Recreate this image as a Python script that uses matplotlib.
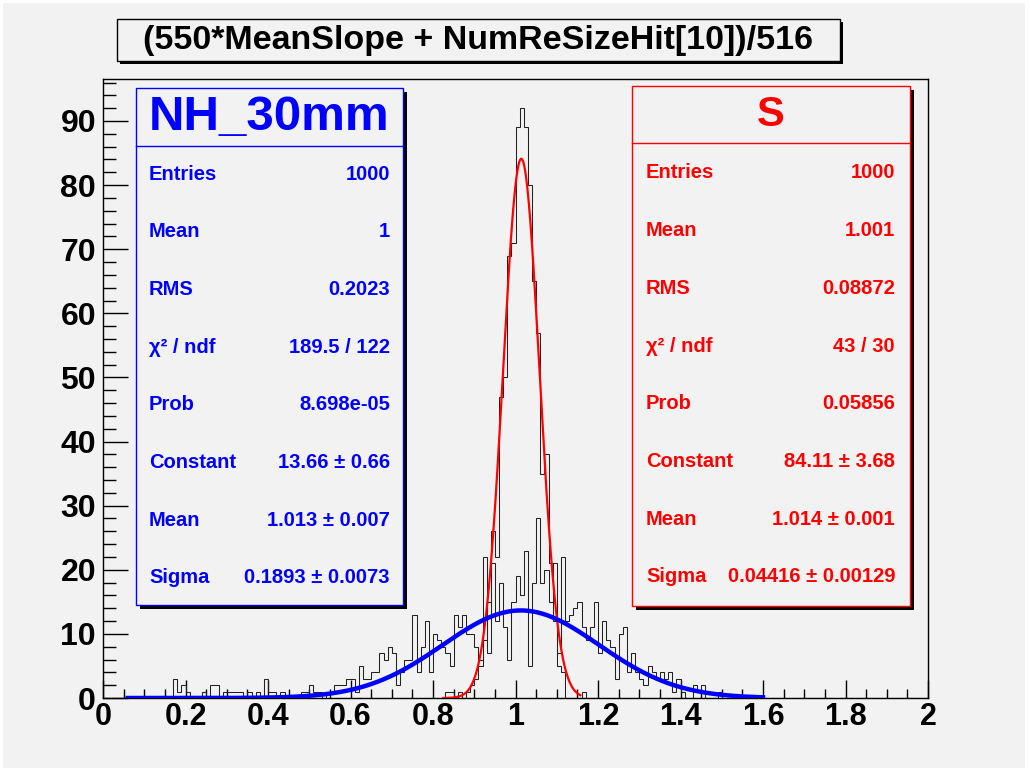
import numpy as np
import matplotlib.pyplot as plt
from matplotlib.patches import Rectangle
from matplotlib.ticker import MultipleLocator

plt.rcParams['font.family'] = ['Liberation Sans', 'DejaVu Sans']
plt.rcParams['font.weight'] = 'bold'

# histogram binning: 200 bins of 0.01 between 0 and 2
bin_lo, bin_hi, n_bins = 0.0, 2.0, 200

# NH_30mm histogram, counts starting at x = 0.17
nh_first = 0.17
nh_counts = [3, 1, 2, 1, 0, 0, 0, 1, 0, 2, 2, 0, 1, 1, 1, 1, 1, 0, 1, 0,
             1, 0, 3, 1, 1, 0, 1, 0, 0, 0, 0, 1, 1, 2, 1, 1, 0, 1, 1, 2,
             2, 2, 3, 3, 1, 5, 3, 3, 4, 4, 7, 6, 8, 7, 2, 4, 6, 6, 13, 4,
             8, 12, 4, 10, 9, 8, 7, 5, 13, 11, 13, 10, 10, 8, 6, 22, 7, 21, 12, 18,
             11, 6, 15, 19, 16, 23, 5, 18, 28, 18, 20, 15, 21, 7, 22, 12, 13, 14, 15, 11,
             9, 11, 15, 7, 12, 9, 8, 3, 10, 11, 4, 7, 4, 3, 2, 5, 4, 3, 4, 3,
             4, 1, 3, 1, 0, 0, 2, 1, 2, 0, 0, 0, 1]

# S histogram, counts starting at x = 0.83
s_first = 0.83
s_counts = [1, 1, 0, 1, 0, 1, 2, 3, 5, 9, 15, 26, 22, 47, 50, 69, 71, 89, 92, 89,
            80, 65, 57, 35, 38, 21, 12, 5, 4, 0, 0, 0, 0, 1]

# gaussian fit results (from the stat boxes)
nh_fit = dict(const=13.66, mean=1.013, sigma=0.1893, lo=0.06, hi=1.6)
s_fit = dict(const=84.11, mean=1.014, sigma=0.04416, lo=0.825, hi=1.157)

nh_stats = [("Entries", "1000"), ("Mean", "1"), ("RMS", "0.2023"),
            ("χ² / ndf", "189.5 / 122"), ("Prob", "8.698e-05"),
            ("Constant", "13.66 ± 0.66"), ("Mean", "1.013 ± 0.007"),
            ("Sigma", "0.1893 ± 0.0073")]
s_stats = [("Entries", "1000"), ("Mean", "1.001"), ("RMS", "0.08872"),
           ("χ² / ndf", "43 / 30"), ("Prob", "0.05856"),
           ("Constant", "84.11 ± 3.68"), ("Mean", "1.014 ± 0.001"),
           ("Sigma", "0.04416 ± 0.00129")]

title = "(550*MeanSlope + NumReSizeHit[10])/516"

W, H = 1030, 771
bg = "#f2f2f2"


def fx(px):
    return px / W


def fy(py):
    return 1 - py / H


edges = np.linspace(bin_lo, bin_hi, n_bins + 1)


def full_hist(first, counts):
    h = np.zeros(n_bins)
    i0 = int(round((first - bin_lo) / 0.01))
    h[i0:i0 + len(counts)] = counts
    return h


h_nh = full_hist(nh_first, nh_counts)
h_s = full_hist(s_first, s_counts)


def gaus(p, n=400):
    x = np.linspace(p["lo"], p["hi"], n)
    return x, p["const"] * np.exp(-0.5 * ((x - p["mean"]) / p["sigma"]) ** 2)


fig = plt.figure(figsize=(W / 100, H / 100), dpi=100, facecolor="white")
fig.patches.append(Rectangle((fx(3), fy(768)), fx(1022), 765 / H,
                             transform=fig.transFigure, facecolor=bg,
                             edgecolor="none", zorder=-5))

ax = fig.add_axes([fx(103), fy(698), fx(928 - 103), (698 - 79) / H])
ax.set_facecolor(bg)
ax.stairs(h_s, edges, color="#222222", lw=0.75, zorder=2)
ax.stairs(h_nh, edges, color="#222222", lw=0.75, zorder=2)
xs, ys = gaus(s_fit)
ax.plot(xs, ys, color="red", lw=1.6, zorder=3)
xn, yn = gaus(nh_fit)
ax.plot(xn, yn, color="blue", lw=3.2, zorder=4)

ax.set_xlim(0, 2)
ax.set_ylim(0, 96.55)
ax.xaxis.set_minor_locator(MultipleLocator(0.05))
ax.yaxis.set_major_locator(MultipleLocator(10))
ax.yaxis.set_minor_locator(MultipleLocator(2))
ax.set_xticks(np.arange(0, 2.01, 0.2))
ax.set_xticklabels(["0", "0.2", "0.4", "0.6", "0.8", "1", "1.2", "1.4",
                    "1.6", "1.8", "2"])
ax.tick_params(axis="x", which="major", direction="in", length=13, width=1,
               labelsize=22, pad=3)
ax.tick_params(axis="x", which="minor", direction="in", length=6.5, width=1)
ax.tick_params(axis="y", which="major", direction="in", length=18, width=1,
               labelsize=23, pad=5)
ax.tick_params(axis="y", which="minor", direction="in", length=9, width=1)
for lab in ax.get_xticklabels() + ax.get_yticklabels():
    lab.set_fontweight("bold")
for s in ax.spines.values():
    s.set_linewidth(1)
    s.set_color("black")


def box(x0, y0, x1, y1, edge, lw=1.0, shadow=4):
    fig.patches.append(Rectangle((fx(x0 + shadow), fy(y1 + shadow)),
                                 fx(x1 - x0), (y1 - y0) / H,
                                 transform=fig.transFigure, facecolor="black",
                                 edgecolor="none", zorder=5))
    fig.patches.append(Rectangle((fx(x0), fy(y1)), fx(x1 - x0), (y1 - y0) / H,
                                 transform=fig.transFigure, facecolor=bg,
                                 edgecolor=edge, lw=lw, zorder=6))


# title box
box(117, 19, 840, 61, "black", lw=1.0, shadow=3)
fig.text(fx(478), fy(41), title, ha="center", va="center", fontsize=24.5,
         fontweight="bold", color="black", zorder=7)


def stat_box(x0, y0, x1, y1, sep, color, header, hsize, rows, lx, rx, ry0):
    box(x0, y0, x1, y1, color, lw=1.0, shadow=4)
    fig.lines.append(plt.Line2D([fx(x0), fx(x1)], [fy(sep), fy(sep)],
                                transform=fig.transFigure, color=color,
                                lw=1.0, zorder=7))
    fig.text(fx((x0 + x1) / 2), fy((y0 + sep) / 2), header, ha="center",
             va="center", fontsize=hsize, fontweight="bold", color=color,
             zorder=7)
    for i, (k, v) in enumerate(rows):
        y = ry0 + i * 57.7
        fig.text(fx(lx), fy(y), k, ha="left", va="center", fontsize=14.5,
                 fontweight="bold", color=color, zorder=7)
        fig.text(fx(rx), fy(y), v, ha="right", va="center", fontsize=14.5,
                 fontweight="bold", color=color, zorder=7)


stat_box(136, 88, 403, 605, 146, "blue", "NH_30mm", 35.5, nh_stats, 149, 390, 174)
stat_box(632, 86, 910, 606, 143, "red", "S", 30, s_stats, 646, 895, 173)

fig.savefig("out.png", dpi=100, facecolor="white")
